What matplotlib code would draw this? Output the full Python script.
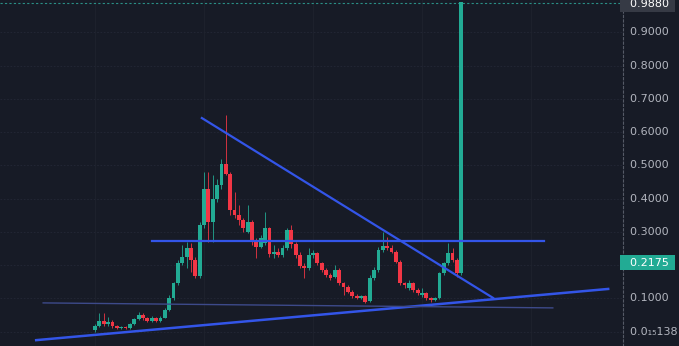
import numpy as np
import matplotlib.pyplot as plt

# candle data (price)
opens = [0.005, 0.018, 0.032, 0.022, 0.030, 0.016, 0.011, 0.013, 0.010, 0.022,
         0.038, 0.050, 0.040, 0.032, 0.040, 0.033, 0.042, 0.066, 0.100, 0.145,
         0.205, 0.225, 0.250, 0.215, 0.168, 0.320, 0.430, 0.330, 0.400, 0.440,
         0.505, 0.475, 0.365, 0.350, 0.335, 0.300, 0.328, 0.270, 0.255, 0.265,
         0.310, 0.232, 0.240, 0.230, 0.250, 0.305, 0.262, 0.230, 0.198, 0.190,
         0.230, 0.235, 0.205, 0.185, 0.170, 0.165, 0.185, 0.145, 0.135, 0.120,
         0.108, 0.100, 0.106, 0.092, 0.160, 0.185, 0.245, 0.258, 0.252, 0.240,
         0.210, 0.145, 0.130, 0.145, 0.125, 0.110, 0.115, 0.102, 0.095, 0.100,
         0.175, 0.205, 0.235, 0.215, 0.175]
closes = [0.018, 0.032, 0.022, 0.030, 0.016, 0.011, 0.013, 0.010, 0.022, 0.038,
          0.050, 0.040, 0.032, 0.040, 0.033, 0.042, 0.066, 0.100, 0.145, 0.205,
          0.225, 0.250, 0.215, 0.168, 0.320, 0.430, 0.330, 0.400, 0.440, 0.505,
          0.475, 0.365, 0.350, 0.335, 0.310, 0.328, 0.270, 0.255, 0.280, 0.310,
          0.232, 0.240, 0.230, 0.250, 0.305, 0.262, 0.230, 0.198, 0.190, 0.230,
          0.235, 0.205, 0.185, 0.170, 0.162, 0.185, 0.145, 0.135, 0.120, 0.108,
          0.102, 0.106, 0.090, 0.160, 0.185, 0.245, 0.258, 0.252, 0.240, 0.210,
          0.145, 0.140, 0.145, 0.125, 0.115, 0.115, 0.102, 0.095, 0.100, 0.175,
          0.205, 0.235, 0.215, 0.175, 0.990]
highs = [0.022, 0.055, 0.055, 0.045, 0.035, 0.020, 0.017, 0.016, 0.025, 0.042,
         0.060, 0.055, 0.045, 0.048, 0.045, 0.048, 0.070, 0.110, 0.150, 0.215,
         0.260, 0.270, 0.265, 0.225, 0.330, 0.480, 0.480, 0.470, 0.460, 0.520,
         0.650, 0.480, 0.420, 0.380, 0.340, 0.380, 0.335, 0.280, 0.290, 0.360,
         0.315, 0.260, 0.250, 0.260, 0.310, 0.320, 0.270, 0.240, 0.205, 0.250,
         0.245, 0.240, 0.210, 0.190, 0.175, 0.200, 0.190, 0.150, 0.140, 0.125,
         0.112, 0.110, 0.110, 0.170, 0.195, 0.255, 0.300, 0.285, 0.260, 0.245,
         0.215, 0.150, 0.155, 0.150, 0.130, 0.130, 0.120, 0.105, 0.105, 0.180,
         0.210, 0.265, 0.250, 0.220, 0.990]
lows = [0.000, 0.015, 0.018, 0.018, 0.012, 0.008, 0.008, 0.007, 0.008, 0.020,
        0.035, 0.035, 0.028, 0.030, 0.030, 0.030, 0.040, 0.062, 0.095, 0.140,
        0.200, 0.190, 0.180, 0.160, 0.160, 0.310, 0.270, 0.270, 0.390, 0.430,
        0.470, 0.350, 0.340, 0.320, 0.300, 0.295, 0.260, 0.220, 0.250, 0.260,
        0.225, 0.220, 0.225, 0.225, 0.245, 0.250, 0.220, 0.190, 0.160, 0.185,
        0.220, 0.200, 0.180, 0.165, 0.155, 0.160, 0.140, 0.110, 0.115, 0.100,
        0.098, 0.097, 0.085, 0.090, 0.155, 0.180, 0.240, 0.245, 0.235, 0.205,
        0.140, 0.130, 0.125, 0.120, 0.110, 0.105, 0.095, 0.090, 0.092, 0.098,
        0.170, 0.200, 0.210, 0.165, 0.170]

# drawn trend lines: (x index, price) end points
resist_x, resist_y = [24.5, 91.3], [0.642, 0.101]
horiz_x, horiz_y = [13.1, 103.0], [0.272, 0.272]
support_x, support_y = [-13.5, 117.7], [-0.026, 0.128]
base_x, base_y = [-11.9, 105.0], [0.086, 0.071]

yticks = [0.1, 0.3, 0.4, 0.5, 0.6, 0.7, 0.8, 0.9]
last_price = 0.2175
top_price = 0.9880

bg = '#171b26'
up_c = '#22ab94'
down_c = '#f23645'
txt_c = '#b2b5be'

fig = plt.figure(figsize=(6.79, 3.46), dpi=100, facecolor=bg)
ax = fig.add_axes([0, 0, 623 / 679, 1])
ax.set_facecolor(bg)

o = np.array(opens)
c = np.array(closes)
x = np.arange(len(o))
cols = [up_c if cc >= oo else down_c for oo, cc in zip(o, c)]

ax.vlines(x, lows, highs, colors=cols, linewidth=0.7, alpha=0.85, zorder=2)
ax.bar(x, np.abs(c - o), bottom=np.minimum(o, c), width=0.88, color=cols,
       linewidth=0, zorder=3)

ax.plot(resist_x, resist_y, color='#3355e8', lw=1.6, zorder=4)
ax.plot(horiz_x, horiz_y, color='#3355e8', lw=1.6, zorder=4)
ax.plot(support_x, support_y, color='#3355e8', lw=1.8, zorder=4)
ax.plot(base_x, base_y, color='#3d4a8a', lw=1.0, zorder=4)

ax.set_xlim(-21.8, 121.1)
ax.set_ylim(-0.0436, 0.997)

# grid
for t in yticks + [0.2, 0.0]:
    ax.axhline(t, color='#242836', lw=0.6, ls=(0, (2, 2)), zorder=0)
for gx in [0, 25, 50, 75, 100]:
    ax.axvline(gx, color='#1f232e', lw=0.6, zorder=0)

# price line of the last high
ax.axhline(top_price, color='#2a8f86', lw=0.8, ls=(0, (2, 2)), zorder=1)

ax.set_xticks([])
ax.set_yticks([])
for s in ax.spines.values():
    s.set_visible(False)
ax.spines['right'].set_visible(True)
ax.spines['right'].set_color('#555a66')
ax.spines['right'].set_linestyle((0, (2, 2)))
ax.spines['right'].set_linewidth(0.8)

# price scale labels
tr = ax.get_yaxis_transform()
for t in yticks:
    ax.text(1.0, t, '  %.4f' % t, transform=tr, color=txt_c, fontsize=8,
            va='center', ha='left', clip_on=False)
ax.text(1.0, 0.0, '  0.0₁₅138', transform=tr, color=txt_c, fontsize=8,
        va='center', ha='left', clip_on=False)
ax.text(1.0, last_price - 0.01, '  %.4f ' % last_price, transform=tr,
        color='white', fontsize=8, va='center', ha='left', clip_on=False,
        bbox=dict(boxstyle='square,pad=0.25', fc=up_c, ec='none'))
ax.text(1.0, top_price - 0.004, '  %.4f ' % top_price, transform=tr,
        color='white', fontsize=8, va='center', ha='left', clip_on=False,
        bbox=dict(boxstyle='square,pad=0.25', fc='#363a45', ec='none'))

fig.savefig('out.png', dpi=100, facecolor=bg)
